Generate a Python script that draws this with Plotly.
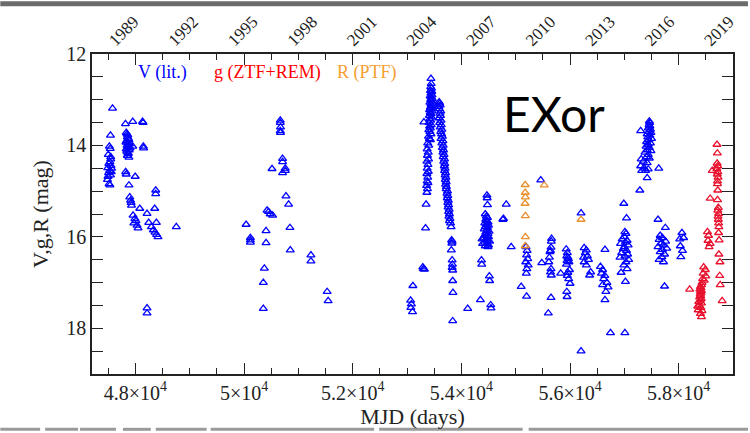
import plotly.graph_objects as go

# ---------------- data (MJD, magnitude) ----------------
v_1989 = [(47578,13.19),(47540,13.78),(47520,14.02),(47535,14.07),(47500,14.20),(47545,14.25),(47530,14.36),(47510,14.40),(47550,14.44),(47490,14.49),(47525,14.55),(47555,14.58),(47505,14.60),(47540,14.65),(47495,14.68),(47515,14.84),(47530,14.87),(47485,14.75),(47560,14.50),(47545,14.30)]

v_1990 = [(47816,13.53),(47830,13.72),(47845,13.75),(47860,13.78),(47850,13.82),(47870,13.85),(47880,13.88),(47835,13.90),(47825,13.93),(47865,13.95),(47890,13.97),(47845,14.00),(47875,14.02),(47855,14.04),(47900,14.06),(47830,14.08),(47885,14.10),(47840,14.13),(47860,14.16),(47870,14.18),(47850,14.22),(47880,14.26),(47820,14.58),(47830,14.63),(47950,13.48),(48130,13.48),(48140,13.50),(47950,14.02),(48145,14.02),(48150,14.06),(47995,14.68),(47880,14.87),
          (47895,15.13),(47910,15.20),(47920,15.25),(47927,15.31),(47956,15.53),(47990,15.60),(48010,15.65),(47970,15.70),(48030,15.75),(48048,15.81),(48079,15.38),(48213,15.49),(48244,15.69),(48354,15.38),(48373,14.98),(48373,15.06),(48294,15.78),(48330,15.85),(48360,15.90),(48390,15.95),(48415,16.00),(48385,15.69),(48752,15.78),(48213,17.56),(48213,17.67)]

v_1995 = [(50037,15.73),(50116,16.02),(50116,16.07),(50116,16.12),(50354,17.00),(50354,17.57),(50373,16.69),(50404,15.87),(50404,16.13),(50422,15.42),(50450,15.45),(50480,15.50),(50525,15.53),(50514,14.51),(50666,13.45),(50666,13.50),(50670,13.60),(50666,13.68),(50670,13.72),(50708,14.29),(50708,14.36),(50708,14.60),(50758,14.50),(50758,14.55),(50771,15.11),(50819,15.29),(50844,15.80),(50850,16.29),(51230,16.40),(51230,16.53),(51529,17.20),(51547,17.40)]

v_2004 = [(53065,17.39),(53080,17.47),(53070,17.55),(53100,17.64),(53107,17.07),(53290,16.66),(53300,16.70),(53320,16.71),(53340,15.81),(53350,15.29),(53310,13.49),
          (53440,12.54),(53445,12.65),(53435,12.72),(53450,12.75),(53430,12.80),(53455,12.82),(53440,12.86),(53460,12.90),(53425,12.92),(53445,12.95),(53465,12.98),(53435,13.00),(53450,13.03),(53420,13.06),(53470,13.08),(53440,13.10),(53455,13.13),(53430,13.16),(53445,13.19),(53415,13.22),(53460,13.25),(53425,13.28),(53440,13.31),(53410,13.35),(53450,13.38),(53420,13.42),(53435,13.45),(53405,13.50),(53445,13.55),(53415,13.58),(53430,13.62),(53400,13.66),(53420,13.70),(53440,13.75),(53395,13.80),(53410,13.85),(53430,13.88),
          (53380,13.95),(53400,14.00),(53370,14.08),(53390,14.15),(53375,14.22),(53395,14.30),(53365,14.35),(53385,14.42),(53370,14.50),(53390,14.57),(53365,14.62),(53380,14.70),(53370,14.78),(53385,14.82),(53360,14.88),(53375,14.95),(53365,15.03)]

v_2005 = [(53590,13.05),(53600,13.08),(53585,13.15),(53610,13.12),(53595,13.20),(53620,13.25),(53605,13.30),(53615,13.35),(53590,13.40),(53625,13.45),(53600,13.50),(53630,13.55),(53610,13.60),(53640,13.65),(53620,13.70),(53635,13.75),(53650,13.80),(53625,13.85),(53660,13.90),(53640,13.95),(53665,14.00),(53650,14.05),(53670,14.10),(53660,14.15),(53680,14.20),(53665,14.25),(53690,14.30),(53675,14.35),(53695,14.40),(53685,14.45),(53700,14.50),(53690,14.55),(53710,14.60),(53700,14.65),(53715,14.70),(53705,14.75),(53720,14.80),(53710,14.85),(53725,14.90),(53720,14.95),(53745,15.00),(53735,15.05),(53750,15.10),(53740,15.15),(53760,15.20),(53750,15.25),(53765,15.30),(53755,15.35),(53775,15.40),(53765,15.45),(53780,15.50),(53770,15.55),(53790,15.60),(53780,15.65),(53800,15.70),(53810,15.78),
          (53820,16.07),(53830,16.10),(53825,16.14),(53815,16.29),(53830,16.51),(53835,16.60),(53830,16.67),(53840,16.73),(53840,16.96),(53845,17.22),(53840,17.84)]

v_2007 = [(54470,15.09),(54475,15.15),(54480,15.30),(54440,15.50),(54460,15.55),(54480,15.58),(54450,15.62),(54470,15.65),(54490,15.68),(54430,15.70),(54460,15.73),(54500,15.75),(54440,15.78),(54480,15.80),(54420,15.83),(54470,15.86),(54510,15.88),(54450,15.90),(54490,15.93),(54430,15.96),(54470,15.98),(54500,16.00),(54410,16.03),(54450,16.05),(54480,16.08),(54520,16.10),(54430,16.12),(54470,16.15),(54500,16.18),(54440,16.20),(54490,16.22),(54390,16.15),(54380,16.05),
          (54370,16.51),(54375,16.60),(54515,16.86),(54520,16.96),(54350,17.38),(54540,17.49),(54545,17.56),(54116,17.57)]

v_2009 = [(54764,15.62),(54775,15.60),(54826,15.29),(54917,16.22),(55101,17.09),(55461,14.76),
          (55190,16.22),(55210,16.30),(55200,16.40),(55220,16.48),(55185,16.55),(55230,16.62),(55205,16.70),(55195,16.80),(55200,17.30),
          (55480,16.57),(55660,16.04),(55655,16.10),(55650,16.23),(55640,16.30),(55630,16.33),(55650,16.70),(55640,16.77),(55655,16.84),(55610,16.55),(55620,16.45),
          (55650,17.33),(55600,17.67),(55828,16.80),
          (55930,16.27),(55950,16.35),(55940,16.42),(55960,16.45),(55970,16.48),(55945,16.52),(55980,16.55),(55935,16.60),(55990,16.72),(55960,16.78),(55950,16.85),(55975,16.92),(56000,17.02),(55940,17.20),(55945,17.31),
          (56203,15.48),(56203,18.50),
          (56260,16.24),(56300,16.29),(56280,16.35),(56320,16.42),(56340,16.50),(56260,16.55),(56300,16.62),(56380,16.77),(56360,16.84),(56250,16.45),
          (56643,16.28),(56560,16.65),(56600,16.72),(56580,16.80),(56640,16.85),(56620,16.92),(56680,17.00),(56600,17.05),(56700,17.10),(56660,17.20),(56643,17.38),(56745,18.10)]

v_2014 = [(56990,15.27),(57040,15.59),(57010,15.89),(57030,15.93),(57000,16.00),(56960,16.05),(57050,16.08),(57020,16.12),(56930,16.15),(57070,16.18),(57000,16.22),(56980,16.26),(57040,16.30),(56950,16.35),(57060,16.38),(57010,16.42),(56920,16.45),(57080,16.50),(57030,16.55),(56990,16.62),(57050,16.70),(56940,16.78),(57020,16.98),(57010,18.10)]

v_2015 = [(57460,13.47),(57465,13.50),(57455,13.55),(57470,13.58),(57440,13.62),(57480,13.65),(57300,13.68),(57450,13.70),(57490,13.72),(57420,13.75),(57470,13.78),(57430,13.82),(57500,13.85),(57450,13.88),(57410,13.92),(57480,13.95),(57440,13.98),(57400,14.02),(57460,14.05),(57420,14.10),(57490,14.12),(57380,14.15),(57440,14.20),(57410,14.25),(57460,14.28),(57310,14.30),(57350,14.35),(57420,14.38),(57300,14.45),(57370,14.50),(57440,14.52),(57320,14.55),(57390,14.55),(57633,14.50),(57420,14.71),(57285,14.98)]

v_2016 = [(57620,15.62),(57755,15.80),(57660,15.97),(57700,16.02),(57640,16.06),(57760,16.10),(57680,16.14),(57720,16.18),(57620,16.22),(57780,16.25),(57700,16.28),(57660,16.33),(57740,16.38),(57690,16.44),(57640,16.50),(57720,16.55),(57740,17.08),
          (58060,15.91),(58020,16.05),(58090,16.02),(58030,16.20),(58070,16.30),(58040,16.44)]

g_ztf_rem = [(58202,17.15),
             (58460,16.66),(58490,16.72),(58450,16.80),(58500,16.86),(58440,16.92),(58430,17.00),(58420,17.05),(58400,17.09),(58410,17.12),(58390,17.15),(58420,17.18),(58400,17.20),(58410,17.23),(58395,17.26),(58405,17.29),(58385,17.32),(58415,17.35),(58400,17.38),(58370,17.42),(58420,17.45),(58380,17.50),(58350,17.52),(58410,17.55),(58360,17.60),(58430,17.62),(58400,17.68),(58420,17.75),(58470,16.95),
             (58530,15.89),(58550,15.97),(58540,16.08),(58580,16.15),(58560,16.22),(58580,15.16),(58618,14.55),
             (58705,13.98),(58712,14.17),(58708,14.39),(58718,14.45),(58702,14.51),(58720,14.58),(58710,14.63),(58725,14.70),(58715,14.78),(58715,14.84),(58720,14.98),(58715,15.19),(58730,15.36),(58720,15.42),(58735,15.49),(58725,15.55),(58730,15.62),(58735,15.70),(58740,15.78),(58735,15.91),(58745,16.07),(58740,16.38),(58760,16.55),(58755,16.85),(58765,17.05),(58800,17.40)]

r_ptf = [(55175,14.86),(55175,15.03),(55178,15.13),(55172,15.27),(55178,15.54),(55178,16.00),(55175,16.20),(55525,14.87),(56203,15.62)]

x_tick_vals = [48000, 50000, 52000, 54000, 56000, 58000]
x_tick_text = ["4.8×10<sup>4</sup>", "5×10<sup>4</sup>", "5.2×10<sup>4</sup>",
               "5.4×10<sup>4</sup>", "5.6×10<sup>4</sup>", "5.8×10<sup>4</sup>"]
y_tick_vals = [12, 14, 16, 18]
year_labels = ["1989", "1992", "1995", "1998", "2001", "2004", "2007", "2010", "2013", "2016", "2019"]
year_mjd = [47527, 48622, 49718, 50814, 51910, 53005, 54101, 55197, 56293, 57388, 58484]

legend_labels = ["V (lit.)", "g (ZTF+REM)", "R (PTF)"]
class_label = "EXor"

# ---------------- figure ----------------
BLUE = "#0000ff"
RED = "#e8112d"
ORANGE = "#e8902e"
SERIF = "Liberation Serif"
XRANGE = [47200, 59000]

v_all = v_1989 + v_1990 + v_1995 + v_2004 + v_2005 + v_2007 + v_2009 + v_2014 + v_2015 + v_2016


def split(pts):
    return [p[0] for p in pts], [p[1] for p in pts]


fig = go.Figure()
# the R (PTF) series is drawn against the (identical-range) top year axis so that axis is rendered
for pts, col, xa in [(v_all, BLUE, "x"), (r_ptf, ORANGE, "x2"), (g_ztf_rem, RED, "x")]:
    xs, ys = split(pts)
    fig.add_trace(go.Scatter(
        x=xs, y=ys, mode="markers", xaxis=xa, yaxis="y",
        marker=dict(symbol="triangle-up-open", size=7, color=col, line=dict(width=1.3, color=col)),
        showlegend=False, hoverinfo="skip"))

axis_common = dict(showline=True, linecolor="#222", linewidth=1.5, mirror="allticks",
                   ticks="inside", tickcolor="#222", tickwidth=1.2, ticklen=11,
                   showgrid=False, zeroline=False)

fig.update_layout(
    width=750, height=433,
    margin=dict(l=92, r=15, t=53, b=59),
    paper_bgcolor="white", plot_bgcolor="white",
    xaxis=dict(range=XRANGE, tickmode="array", tickvals=x_tick_vals, ticktext=x_tick_text,
               tickfont=dict(family=SERIF, size=20, color="#222"),
               minor=dict(dtick=500, tick0=0, ticks="inside", ticklen=6, tickcolor="#222", tickwidth=1.2),
               title=dict(text="MJD (days)", font=dict(family=SERIF, size=22, color="#222"), standoff=2),
               **axis_common),
    yaxis=dict(range=[19, 12], tickmode="array", tickvals=y_tick_vals,
               tickfont=dict(family=SERIF, size=20, color="#222"),
               minor=dict(dtick=0.5, tick0=0, ticks="inside", ticklen=6, tickcolor="#222", tickwidth=1.2),
               title=dict(text="V,g,R (mag)", font=dict(family=SERIF, size=22, color="#222"), standoff=12),
               **axis_common),
    xaxis2=dict(overlaying="x", side="top", anchor="y", range=XRANGE,
                tickmode="array", tickvals=year_mjd, ticktext=year_labels, tickangle=-45,
                ticks="", showline=False, showgrid=False, zeroline=False,
                tickfont=dict(family=SERIF, size=17, color="#222")),
)

for txt, col, px in zip(legend_labels, [BLUE, "#ff0000", "#f5a030"], [136, 212, 336]):
    fig.add_annotation(x=(px - 92) / 643, y=(374 - 72) / 321, xref="paper", yref="paper",
                       text=txt, showarrow=False, xanchor="left", yanchor="middle",
                       font=dict(family=SERIF, size=18, color=col))

fig.add_annotation(x=(555 - 92) / 643, y=(374 - 113) / 321, xref="paper", yref="paper",
                   text=class_label, showarrow=False, xanchor="center", yanchor="middle",
                   font=dict(family="Lato", size=48, color="black"))

# slide background remnants (dark band at top, grey rules at bottom)
fig.add_shape(type="rect", xref="paper", yref="paper", x0=-92 / 643, x1=(750 - 92) / 643,
              y0=1 + 48 / 321, y1=1 + 53 / 321, fillcolor="#6b6b6b", line=dict(width=0), layer="below")
for a, b in [(0, 40), (45, 78), (80, 116), (123, 151), (156, 207), (211, 375), (380, 524), (530, 750)]:
    fig.add_shape(type="rect", xref="paper", yref="paper", x0=(a - 92) / 643, x1=(b - 92) / 643,
                  y0=-(428 - 374) / 321 - 3 / 321, y1=-(428 - 374) / 321, fillcolor="#9a9a9a",
                  line=dict(width=0), layer="below")

fig.write_html("out.html")
